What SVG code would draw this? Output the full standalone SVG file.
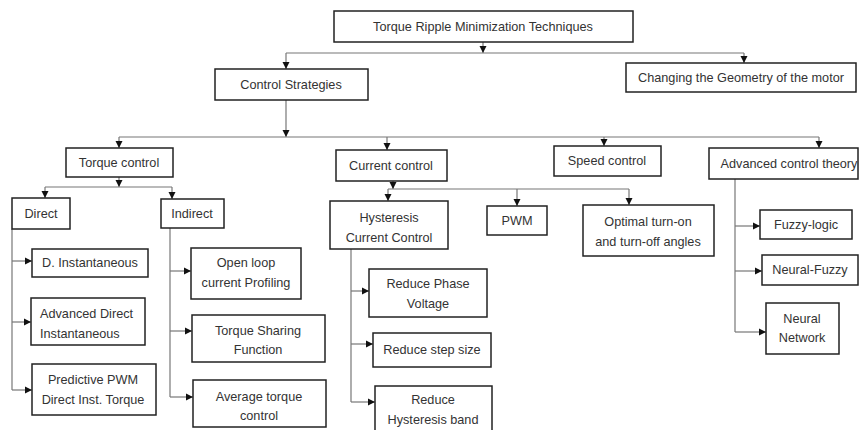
<svg xmlns="http://www.w3.org/2000/svg" width="859" height="430" viewBox="0 0 859 430">
<defs>
<marker id="ah" markerUnits="userSpaceOnUse" markerWidth="8" markerHeight="8" refX="7" refY="4" orient="auto">
<path d="M0,0.5 L7,4 L0,7.5 Z" fill="#111"/>
</marker>
<style>
.box{fill:#fff;stroke:#222;stroke-width:1.5}
.t{font-family:"Liberation Sans",Arial,sans-serif;font-size:12.7px;fill:#333;text-anchor:middle}
.tl{font-family:"Liberation Sans",Arial,sans-serif;font-size:12.7px;fill:#333;text-anchor:start}
.c{fill:none;stroke:#777;stroke-width:1.2}
.a{fill:none;stroke:#777;stroke-width:1.2;marker-end:url(#ah)}
</style>
</defs>
<rect width="859" height="430" fill="#fff"/>
<g id="connectors">
<path class="a" d="M483,42 V53"/>
<path class="c" d="M286,53 H744"/>
<path class="a" d="M286,53 V69"/>
<path class="a" d="M744,53 V63"/>
<path class="a" d="M286,100 V137"/>
<path class="c" d="M119,137 H819"/>
<path class="a" d="M119,137 V148"/>
<path class="a" d="M387,137 V150"/>
<path class="a" d="M604,137 V146"/>
<path class="a" d="M819,137 V148"/>
<path class="a" d="M119,177 V187"/>
<path class="c" d="M45,187 H172"/>
<path class="a" d="M45,187 V198"/>
<path class="a" d="M172,187 V199"/>
<path class="c" d="M12,229 V390"/>
<path class="a" d="M12,261 H32"/>
<path class="a" d="M12,322 H31"/>
<path class="a" d="M12,390 H32"/>
<path class="c" d="M170,228 V397"/>
<path class="a" d="M170,271 H191"/>
<path class="a" d="M170,331 H192"/>
<path class="a" d="M170,397 H193"/>
<path class="a" d="M393,181 V189"/>
<path class="c" d="M388,189 H629"/>
<path class="a" d="M388,189 V201"/>
<path class="a" d="M517,189 V206"/>
<path class="a" d="M629,189 V205"/>
<path class="c" d="M351,249 V402"/>
<path class="a" d="M351,291 H369"/>
<path class="a" d="M351,344 H373"/>
<path class="a" d="M351,402 H375"/>
<path class="c" d="M735,179 V332"/>
<path class="a" d="M735,226 H760"/>
<path class="a" d="M735,271 H762"/>
<path class="a" d="M735,332 H766"/>
</g>
<g id="n-root"><rect class="box" x="334" y="11" width="299" height="31"/><text class="t" x="483" y="31">Torque Ripple Minimization Techniques</text></g>
<g id="n-control"><rect class="box" x="215" y="69" width="153" height="31"/><text class="t" x="291" y="89">Control Strategies</text></g>
<g id="n-geometry"><rect class="box" x="626" y="63" width="230" height="29"/><text class="t" x="741" y="82">Changing the Geometry of the motor</text></g>
<g id="n-torque"><rect class="box" x="66" y="148" width="107" height="29"/><text class="t" x="119" y="167">Torque control</text></g>
<g id="n-current"><rect class="box" x="336" y="150" width="111" height="31"/><text class="t" x="391" y="170">Current control</text></g>
<g id="n-speed"><rect class="box" x="554" y="146" width="107" height="30"/><text class="t" x="607" y="165">Speed control</text></g>
<g id="n-advanced"><rect class="box" x="709" y="148" width="149" height="31"/><text class="t" x="789" y="168">Advanced control theory</text></g>
<g id="n-direct"><rect class="box" x="12" y="198" width="58" height="31"/><text class="t" x="41" y="218">Direct</text></g>
<g id="n-indirect"><rect class="box" x="161" y="199" width="63" height="29"/><text class="t" x="192" y="218">Indirect</text></g>
<g id="n-dinst"><rect class="box" x="32" y="249" width="116" height="28"/><text class="t" x="90" y="267">D. Instantaneous</text></g>
<g id="n-adinst"><rect class="box" x="31" y="298" width="114" height="47"/><text class="tl" x="40" y="318">Advanced Direct</text><text class="tl" x="40" y="338">Instantaneous</text></g>
<g id="n-ppwm"><rect class="box" x="32" y="364" width="124" height="51"/><text class="t" x="93" y="384">Predictive PWM</text><text class="t" x="93" y="404">Direct Inst. Torque</text></g>
<g id="n-openloop"><rect class="box" x="191" y="248" width="110" height="51"/><text class="t" x="246" y="267">Open loop</text><text class="t" x="246" y="287">current Profiling</text></g>
<g id="n-tsf"><rect class="box" x="192" y="315" width="133" height="47"/><text class="t" x="258" y="335">Torque Sharing</text><text class="t" x="258" y="354">Function</text></g>
<g id="n-avg"><rect class="box" x="193" y="380" width="133" height="47"/><text class="t" x="259" y="401">Average torque</text><text class="t" x="259" y="420">control</text></g>
<g id="n-hyst"><rect class="box" x="330" y="201" width="118" height="48"/><text class="t" x="389" y="222">Hysteresis</text><text class="t" x="389" y="242">Current Control</text></g>
<g id="n-pwm"><rect class="box" x="487" y="206" width="60" height="29"/><text class="t" x="517" y="225">PWM</text></g>
<g id="n-optimal"><rect class="box" x="583" y="205" width="131" height="51"/><text class="t" x="648" y="226">Optimal turn-on</text><text class="t" x="648" y="246">and turn-off angles</text></g>
<g id="n-rpv"><rect class="box" x="369" y="269" width="118" height="48"/><text class="t" x="428" y="288">Reduce Phase</text><text class="t" x="428" y="308">Voltage</text></g>
<g id="n-rss"><rect class="box" x="373" y="333" width="118" height="34"/><text class="t" x="432" y="354">Reduce step size</text></g>
<g id="n-rhb"><rect class="box" x="375" y="386" width="117" height="50"/><text class="t" x="433" y="404">Reduce</text><text class="t" x="433" y="424">Hysteresis band</text></g>
<g id="n-fuzzy"><rect class="box" x="760" y="210" width="92" height="29"/><text class="t" x="806" y="229">Fuzzy-logic</text></g>
<g id="n-nfuzzy"><rect class="box" x="762" y="255" width="96" height="30"/><text class="t" x="810" y="274">Neural-Fuzzy</text></g>
<g id="n-nn"><rect class="box" x="766" y="303" width="73" height="51"/><text class="t" x="802" y="323">Neural</text><text class="t" x="802" y="342">Network</text></g>
</svg>
